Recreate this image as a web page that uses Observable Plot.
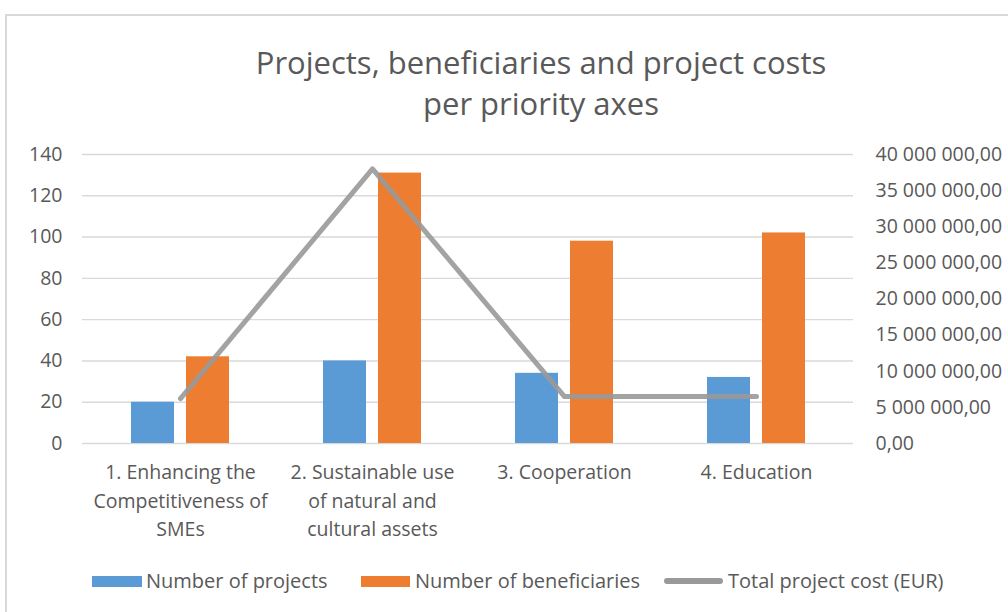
<!DOCTYPE html>
<html>
<head>
<meta charset="utf-8">
<script src="https://cdn.jsdelivr.net/npm/d3@7"></script>
<script src="https://cdn.jsdelivr.net/npm/@observablehq/plot@0.6"></script>
<style>
  body { margin: 0; background: #fff; width: 1008px; height: 612px; overflow: hidden; position: relative; font-family: "Open Sans", Lato, sans-serif; color: #595959; }
  #frame { position: absolute; left: 5px; top: 14px; width: 1100px; height: 700px; border-left: 2px solid #d9d9d9; border-top: 2px solid #d9d9d9; }
  #title { position: absolute; left: 0; top: 42px; width: 1082px; text-align: center; font-size: 31px; line-height: 41px; color: #595959; white-space: nowrap; }
  #chart { position: absolute; left: 0; top: 140px; }
  .leg { position: absolute; font-size: 20px; color: #595959; line-height: 22px; top: 570px; white-space: nowrap; }
  .sw { position: absolute; }
</style>
</head>
<body>
<div id="frame"></div>
<div id="title">Projects, beneficiaries and project costs<br>per priority axes</div>
<div id="chart"></div>
<div id="legend"></div>
<script>
const categories = ["1. Enhancing the Competitiveness of SMEs", "2. Sustainable use of natural and cultural assets", "3. Cooperation", "4. Education"];
const tickLabels = ["1. Enhancing the\nCompetitiveness of\nSMEs", "2. Sustainable use\nof natural and\ncultural assets", "3. Cooperation", "4. Education"];
const projects = [20, 40, 34, 32];
const beneficiaries = [42, 131, 98, 102];
const totalCost = [6200000, 38000000, 6500000, 6500000];
const leftTicks = [0, 20, 40, 60, 80, 100, 120, 140];
const costTicks = [0, 5000000, 10000000, 15000000, 20000000, 25000000, 30000000, 35000000, 40000000];
const seriesNames = ["Number of projects", "Number of beneficiaries", "Total project cost (EUR)"];
const colors = ["#5b9bd5", "#ed7d31", "#a5a5a5"];

const leftMax = 140, costMax = 40000000;
const toLeft = c => c / costMax * leftMax;

const data = categories.map((c, i) => ({category: c, projects: projects[i], beneficiaries: beneficiaries[i], cost: totalCost[i]}));

const loc = d3.formatLocale({decimal: ",", thousands: " ", grouping: [3], currency: ["", ""]});
const fmt = loc.format(",.2f");

const chart = Plot.plot({
  width: 1008,
  height: 420,
  marginTop: 14,
  marginBottom: 117,
  marginLeft: 82,
  marginRight: 155,
  style: {fontFamily: "'Open Sans', Lato, sans-serif", background: "transparent", color: "#595959"},
  x: {domain: categories, padding: 0, axis: null},
  y: {domain: [0, leftMax], axis: null},
  marks: [
    Plot.gridY(leftTicks, {stroke: "#d9d9d9", strokeOpacity: 1, strokeWidth: 1.4}),
    Plot.barY(data, {x: "category", y: "projects", fill: colors[0], insetLeft: 47, insetRight: 102}),
    Plot.barY(data, {x: "category", y: "beneficiaries", fill: colors[1], insetLeft: 102, insetRight: 47}),
    Plot.line(data, {x: "category", y: d => toLeft(d.cost), stroke: "#999999", strokeOpacity: 0.9, strokeWidth: 5, strokeLinecap: "round", strokeLinejoin: "round"}),
    Plot.axisY(leftTicks, {anchor: "left", label: null, tickSize: 0, tickPadding: 20, fontSize: 19.5, fill: "#595959"}),
    Plot.axisY(costTicks.map(toLeft), {anchor: "right", label: null, tickSize: 0, tickPadding: 22, fontSize: 19.5, fill: "#595959", tickFormat: v => fmt(Math.round(v / leftMax * costMax))}),
    Plot.axisX({label: null, tickSize: 0, tickPadding: 16, fontSize: 19.5, lineHeight: 1.44, fill: "#595959", tickFormat: d => tickLabels[categories.indexOf(d)]})
  ]
});
document.getElementById("chart").appendChild(chart);

const legendPos = [{sx: 92, sw: 50, sh: 11, tx: 146}, {sx: 361, sw: 49, sh: 11, tx: 415}, {sx: 664, sw: 59, sh: 6, tx: 728}];
const legend = document.getElementById("legend");
seriesNames.forEach((name, i) => {
  const p = legendPos[i];
  const sw = document.createElement("div");
  sw.className = "sw";
  sw.style.left = p.sx + "px";
  sw.style.width = p.sw + "px";
  sw.style.height = p.sh + "px";
  sw.style.top = (581 - p.sh / 2) + "px";
  sw.style.background = i === 2 ? "#999999" : colors[i];
  if (i === 2) sw.style.borderRadius = "3px";
  legend.appendChild(sw);
  const t = document.createElement("div");
  t.className = "leg";
  t.style.left = p.tx + "px";
  t.textContent = name;
  legend.appendChild(t);
});
</script>
</body>
</html>
